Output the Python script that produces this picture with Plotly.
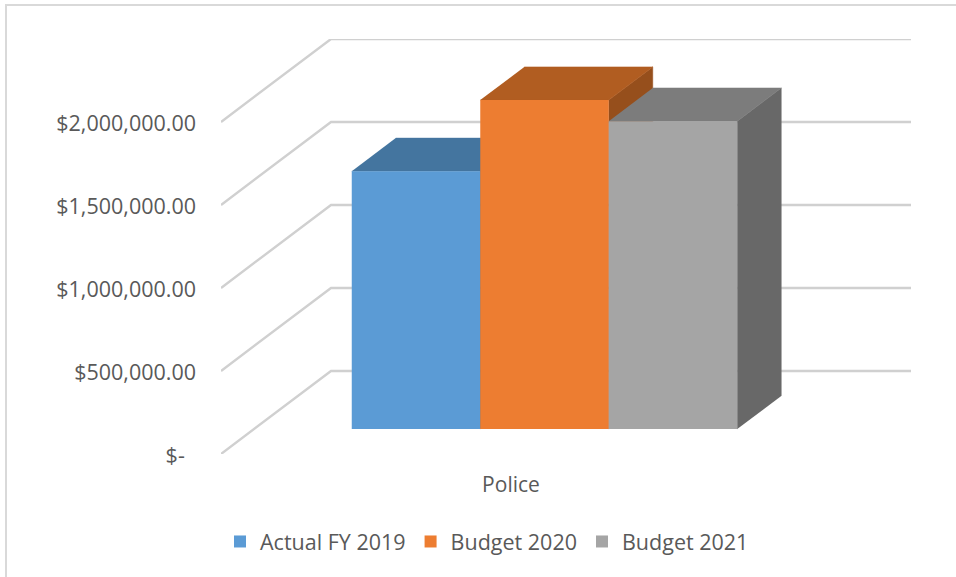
import plotly.graph_objects as go

# Spending per budget year for the Police department
category = "Police"
series_names = ["Actual FY 2019", "Budget 2020", "Budget 2021"]
series_values = [1553000, 1982000, 1855000]
front_colors = ["#5B9BD5", "#ED7D31", "#A5A5A5"]
top_colors = ["#44759F", "#B15D21", "#7C7C7C"]
side_colors = ["#3A6487", "#964F1C", "#686868"]
tick_values = [0, 500000, 1000000, 1500000, 2000000]
tick_labels = ["$-\u00a0\u00a0", "$500,000.00", "$1,000,000.00", "$1,500,000.00", "$2,000,000.00"]

FONT = dict(family="Open Sans, sans-serif", size=21.5, color="#595959")
CATEGORY_FONT = dict(family="Open Sans, sans-serif", size=21, color="#595959")

# Oblique projection: one unit of depth moves a point right and up along these steps
DEPTH_X = 0.856
DEPTH_Y = 500000
BAR_NEAR = 0.3
BAR_FAR = 0.7
X_RANGE = [-1.5175, 3.852]
Y_RANGE = [0, 2500000]
CATEGORY_X = 0.739
FRONT_RIGHT = X_RANGE[1] - DEPTH_X


def wall_point(x, value, depth):
    return x + depth * DEPTH_X, value + depth * DEPTH_Y


def bar_point(x, value, depth):
    # Bar x positions are measured on the plane of their own front faces
    return x + (depth - BAR_NEAR) * DEPTH_X, value + depth * DEPTH_Y


fig = go.Figure()

# Side wall and back wall gridlines
for v in tick_values:
    wall = [wall_point(X_RANGE[0], v, 0), wall_point(X_RANGE[0], v, 1), wall_point(FRONT_RIGHT, v, 1)]
    fig.add_trace(go.Scatter(
        x=[p[0] for p in wall], y=[p[1] for p in wall], mode="lines",
        line=dict(color="#D0D0D0", width=2.4), cliponaxis=False,
        showlegend=False, hoverinfo="skip",
    ))

# Top and side faces, painted from left to right
for i, v in enumerate(series_values):
    left, right = i - 0.5, i + 0.5
    faces = [
        ([(right, 0, BAR_NEAR), (right, v, BAR_NEAR), (right, v, BAR_FAR), (right, 0, BAR_FAR)], side_colors[i]),
        ([(left, v, BAR_NEAR), (right, v, BAR_NEAR), (right, v, BAR_FAR), (left, v, BAR_FAR)], top_colors[i]),
    ]
    for corners, color in faces:
        pts = [bar_point(*c) for c in corners]
        fig.add_trace(go.Scatter(
            x=[p[0] for p in pts], y=[p[1] for p in pts], mode="lines",
            fill="toself", fillcolor=color, line=dict(color=color, width=0.5),
            showlegend=False, hoverinfo="skip",
        ))

# Front faces sit on an overlaying subplot so they cover the neighbour's top face
for i, (name, v) in enumerate(zip(series_names, series_values)):
    fig.add_trace(go.Bar(
        x=[i], y=[v], base=BAR_NEAR * DEPTH_Y, width=1, name=name,
        marker=dict(color=front_colors[i], line=dict(width=0)),
        xaxis="x2", yaxis="y2",
    ))

fig.update_layout(
    width=956, height=577,
    margin=dict(l=221, r=45, t=39, b=123),
    paper_bgcolor="white", plot_bgcolor="white",
    font=FONT,
    barmode="overlay",
    xaxis=dict(
        range=X_RANGE, tickvals=[CATEGORY_X], ticktext=[category],
        showgrid=False, zeroline=False, showline=False, ticks="",
        ticklabelstandoff=16, tickfont=CATEGORY_FONT,
    ),
    yaxis=dict(
        range=Y_RANGE, tickvals=tick_values, ticktext=tick_labels,
        showgrid=False, zeroline=False, showline=False, ticks="",
        ticklabelstandoff=24, ticklabelshift=1, tickfont=FONT,
    ),
    xaxis2=dict(range=X_RANGE, overlaying="x", visible=False),
    yaxis2=dict(range=Y_RANGE, overlaying="y", visible=False),
    legend=dict(
        orientation="h", xref="container", x=220 / 956, xanchor="left",
        yref="container", y=1 - 521 / 577, yanchor="top",
        font=FONT, itemclick=False, itemdoubleclick=False,
    ),
    # Chart frame: top and left edges, expressed relative to the plot area
    shapes=[
        dict(type="line", xref="paper", yref="paper",
             x0=(5 - 221) / 690, x1=(956 - 221) / 690,
             y0=(454 - 5) / 415, y1=(454 - 5) / 415,
             line=dict(color="#D9D9D9", width=2)),
        dict(type="line", xref="paper", yref="paper",
             x0=(6 - 221) / 690, x1=(6 - 221) / 690,
             y0=(454 - 577) / 415, y1=(454 - 5) / 415,
             line=dict(color="#D9D9D9", width=2)),
    ],
)

fig.write_html("out.html")
